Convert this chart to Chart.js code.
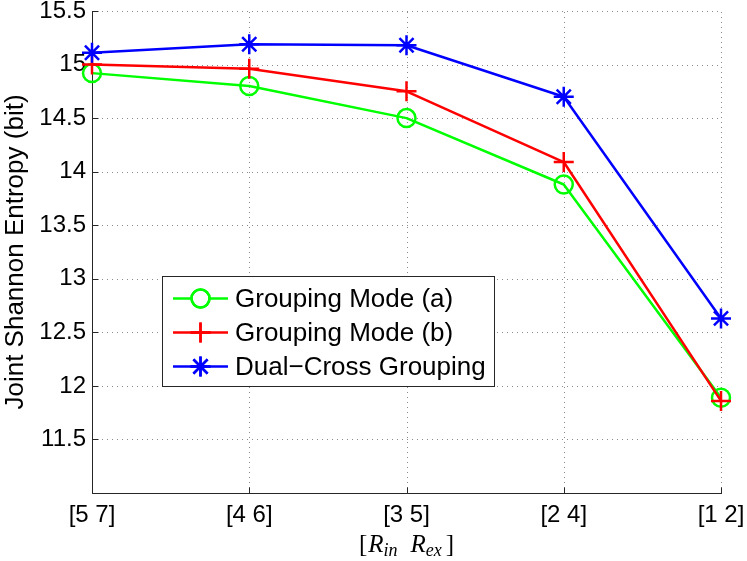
<!DOCTYPE html>
<html>
<head>
<meta charset="utf-8">
<script src="https://cdn.jsdelivr.net/npm/chart.js@4/dist/chart.umd.min.js"></script>
<style>
  html, body { margin: 0; padding: 0; background: #fff; }
  #wrap { width: 747px; height: 561px; position: relative; }
</style>
</head>
<body>
<div id="wrap"><canvas id="c" width="747" height="561"></canvas></div>
<script>
const categories = ['[5 7]', '[4 6]', '[3 5]', '[2 4]', '[1 2]'];
const modeA = [14.92, 14.80, 14.50, 13.88, 11.89];
const modeB = [15.00, 14.96, 14.75, 14.09, 11.86];
const dualCross = [15.11, 15.19, 15.18, 14.70, 12.63];
const seriesLabels = ['Grouping Mode (a)', 'Grouping Mode (b)', 'Dual\u2212Cross Grouping'];
const yTicks = [11, 11.5, 12, 12.5, 13, 13.5, 14, 14.5, 15, 15.5];
const yLabel = 'Joint Shannon Entropy (bit)';

const AX = '#262626';

const customDraw = {
  id: 'customDraw',
  beforeDatasetsDraw(chart) {
    const ctx = chart.ctx;
    const a = chart.chartArea;
    const xs = chart.scales.x, ys = chart.scales.y;
    ctx.save();
    // dotted grid
    ctx.strokeStyle = '#8a8a8a';
    ctx.lineWidth = 1;
    ctx.setLineDash([1, 4]);
    categories.forEach((c, i) => {
      const x = Math.round(xs.getPixelForValue(i)) + 0.5;
      ctx.beginPath(); ctx.moveTo(x, a.bottom); ctx.lineTo(x, a.top); ctx.stroke();
    });
    yTicks.forEach(v => {
      const y = Math.round(ys.getPixelForValue(v)) + 0.5;
      ctx.beginPath(); ctx.moveTo(a.left, y); ctx.lineTo(a.right, y); ctx.stroke();
    });
    ctx.setLineDash([]);
    // axes
    ctx.strokeStyle = AX;
    ctx.lineWidth = 1;
    const L = Math.round(a.left) + 0.5, B = Math.round(a.bottom) + 0.5;
    ctx.beginPath();
    ctx.moveTo(L, Math.round(a.top));
    ctx.lineTo(L, B);
    ctx.lineTo(Math.round(a.right) + 1, B);
    ctx.stroke();
    // inward ticks
    categories.forEach((c, i) => {
      const x = Math.round(xs.getPixelForValue(i)) + 0.5;
      ctx.beginPath(); ctx.moveTo(x, B); ctx.lineTo(x, B - 6); ctx.stroke();
    });
    yTicks.forEach(v => {
      const y = Math.round(ys.getPixelForValue(v)) + 0.5;
      ctx.beginPath(); ctx.moveTo(L, y); ctx.lineTo(L + 6, y); ctx.stroke();
    });
    ctx.restore();
  },
  afterDatasetsDraw(chart) {
    const ctx = chart.ctx;
    const xs = chart.scales.x;
    ctx.save();
    // legend box
    const bx = 162.5, by = 276.5, bw = 332, bh = 110;
    ctx.fillStyle = '#fff';
    ctx.fillRect(bx, by, bw, bh);
    ctx.strokeStyle = AX;
    ctx.lineWidth = 1;
    ctx.strokeRect(bx, by, bw, bh);
    const rowY = [298.5, 332.5, 366.5];
    chart.data.datasets.forEach((ds, i) => {
      const y = rowY[i];
      ctx.strokeStyle = ds.borderColor;
      ctx.lineWidth = ds.borderWidth;
      ctx.beginPath(); ctx.moveTo(173, y); ctx.lineTo(228, y); ctx.stroke();
      Chart.helpers.drawPoint(ctx, {
        pointStyle: ds.pointStyle, radius: ds.pointRadius, rotation: 0,
        borderWidth: ds.pointBorderWidth
      }, 200.5, y);
      ctx.strokeStyle = ds.borderColor;
      ctx.stroke();
      ctx.fillStyle = '#000';
      ctx.font = '26px "Liberation Sans", Arial, sans-serif';
      ctx.textAlign = 'left';
      ctx.textBaseline = 'middle';
      ctx.fillText(ds.label, 235, y + 1);
    });
    // x axis title: [R_in  R_ex]
    const cx = xs.getPixelForValue(2);
    const baseY = 552;
    const up = '25px "Liberation Serif", "DejaVu Serif", serif';
    const it = 'italic 25px "Liberation Serif", "DejaVu Serif", serif';
    const sub = 'italic 18px "Liberation Serif", "DejaVu Serif", serif';
    const parts = [
      { t: '[', f: up, dy: 0, gap: 1 },
      { t: 'R', f: it, dy: 0, gap: 0 },
      { t: 'in', f: sub, dy: 4, gap: 13 },
      { t: 'R', f: it, dy: 0, gap: 0 },
      { t: 'ex', f: sub, dy: 4, gap: 4 },
      { t: ']', f: up, dy: 0, gap: 0 }
    ];
    let total = 0;
    parts.forEach(p => { ctx.font = p.f; p.w = ctx.measureText(p.t).width; total += p.w + p.gap; });
    let x = cx - total / 2;
    ctx.fillStyle = '#000';
    ctx.textAlign = 'left';
    ctx.textBaseline = 'alphabetic';
    parts.forEach(p => { ctx.font = p.f; ctx.fillText(p.t, x, baseY + p.dy); x += p.w + p.gap; });
    ctx.restore();
  }
};

new Chart(document.getElementById('c'), {
  type: 'line',
  data: {
    labels: categories,
    datasets: [
      { label: seriesLabels[0], data: modeA, borderColor: '#00ff00', backgroundColor: 'rgba(0,0,0,0)',
        borderWidth: 2.5, pointStyle: 'circle', pointRadius: 9, pointBorderWidth: 2.5,
        pointBackgroundColor: 'rgba(0,0,0,0)', pointBorderColor: '#00ff00', order: 3, tension: 0 },
      { label: seriesLabels[1], data: modeB, borderColor: '#ff0000', backgroundColor: 'rgba(0,0,0,0)',
        borderWidth: 2.5, pointStyle: 'cross', pointRadius: 10, pointBorderWidth: 2.5,
        pointBackgroundColor: 'rgba(0,0,0,0)', pointBorderColor: '#ff0000', order: 2, tension: 0 },
      { label: seriesLabels[2], data: dualCross, borderColor: '#0000ff', backgroundColor: 'rgba(0,0,0,0)',
        borderWidth: 2.5, pointStyle: 'star', pointRadius: 10, pointBorderWidth: 2.5,
        pointBackgroundColor: 'rgba(0,0,0,0)', pointBorderColor: '#0000ff', order: 1, tension: 0 }
    ]
  },
  options: {
    responsive: false,
    animation: false,
    devicePixelRatio: 1,
    layout: { autoPadding: false, padding: { top: 11, right: 26, left: 0, bottom: 0 } },
    plugins: { legend: { display: false }, tooltip: { enabled: false } },
    elements: { line: { borderJoinStyle: 'round' } },
    scales: {
      x: {
        type: 'category',
        offset: false,
        grid: { display: false, drawTicks: false },
        border: { display: false },
        ticks: { color: '#000', font: { family: '"Liberation Sans", Arial, sans-serif', size: 24 }, padding: 8, maxRotation: 0, autoSkip: false },
        afterFit(s) { s.height = 68; s.paddingLeft = 0; s.paddingRight = 0; s.paddingTop = 0; s.paddingBottom = 0; }
      },
      y: {
        type: 'linear',
        min: 11, max: 15.5,
        grid: { display: false, drawTicks: false },
        border: { display: false },
        afterBuildTicks(s) { s.ticks = yTicks.map(v => ({ value: v })); },
        ticks: {
          color: '#000', padding: 6,
          font: { family: '"Liberation Sans", Arial, sans-serif', size: 24 },
          callback: v => (v === 11 ? '' : String(v))
        },
        title: { display: true, text: yLabel, color: '#000', padding: 0,
          font: { family: '"Liberation Sans", Arial, sans-serif', size: 26 } },
        afterFit(s) { s.width = 92; s.paddingLeft = 0; s.paddingRight = 0; s.paddingTop = 0; s.paddingBottom = 0; }
      }
    }
  },
  plugins: [customDraw]
});
</script>
</body>
</html>
